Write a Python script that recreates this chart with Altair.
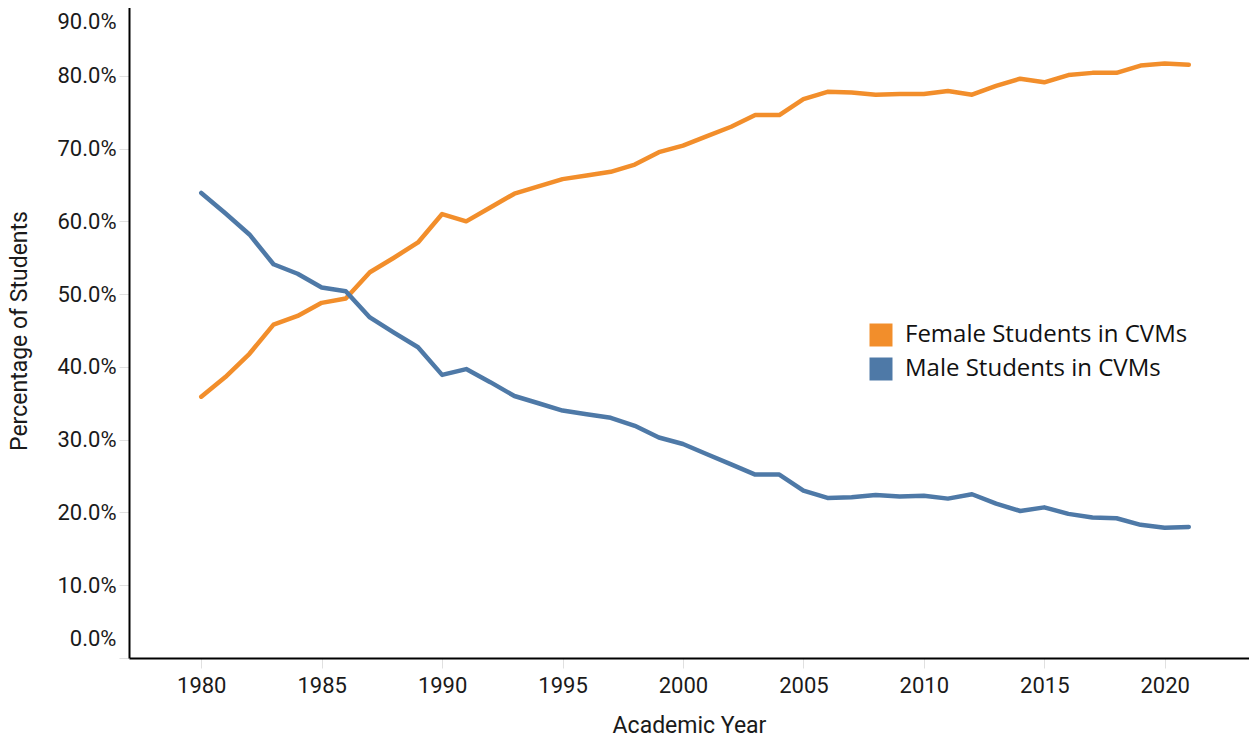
import altair as alt
import pandas as pd

years = list(range(1980, 2022))
female_pct = [35.9, 38.6, 41.8, 45.8, 47.0, 48.8, 49.4, 53.0, 55.0, 57.1,
              61.0, 60.0, 61.9, 63.8, 64.8, 65.8, 66.3, 66.8, 67.8, 69.5,
              70.4, 71.7, 73.0, 74.6, 74.6, 76.8, 77.8, 77.7, 77.4, 77.5,
              77.5, 77.9, 77.4, 78.6, 79.6, 79.1, 80.1, 80.4, 80.4, 81.4,
              81.7, 81.5]
male_pct = [63.9, 61.1, 58.2, 54.1, 52.8, 50.9, 50.4, 46.8, 44.7, 42.7,
            38.9, 39.7, 37.9, 36.0, 35.0, 34.0, 33.5, 33.0, 31.9, 30.3,
            29.4, 28.0, 26.6, 25.2, 25.2, 23.0, 22.0, 22.1, 22.4, 22.2,
            22.3, 21.9, 22.5, 21.2, 20.2, 20.7, 19.8, 19.3, 19.2, 18.3,
            17.9, 18.0]
series_names = ["Female Students in CVMs", "Male Students in CVMs"]
series_colors = ["#F28E2B", "#4E79A7"]
x_ticks = [1980, 1985, 1990, 1995, 2000, 2005, 2010, 2015, 2020]
y_ticks = [0.0, 0.1, 0.2, 0.3, 0.4, 0.5, 0.6, 0.7, 0.8, 0.9]

rows = []
for name, vals in zip(series_names, [female_pct, male_pct]):
    for y, v in zip(years, vals):
        rows.append({"year": y, "share": v / 100.0, "series": name})
df = pd.DataFrame(rows)

x_enc = alt.X("year:Q",
              scale=alt.Scale(domain=[1977, 2023.5], nice=False, zero=False),
              axis=alt.Axis(title="Academic Year", values=x_ticks, format="d",
                            grid=False, labelFlush=False, tickSize=10,
                            tickColor="#e0e0e0", domainColor="#000000", domainWidth=2,
                            labelFont="Roboto", labelFontSize=22, labelColor="#1a1a1a",
                            labelPadding=7, titleFont="Roboto", titleFontSize=23,
                            titleFontWeight="normal", titleColor="#1a1a1a", titlePadding=18))
y_enc = alt.Y("share:Q",
              scale=alt.Scale(domain=[0, 0.9], nice=False),
              axis=alt.Axis(title="Percentage of Students", values=y_ticks, format=".1%",
                            grid=False, labelFlush=True, labelFlushOffset=-8, tickSize=10,
                            tickColor="#e0e0e0", domainColor="#000000", domainWidth=2,
                            labelFont="Roboto", labelFontSize=22, labelColor="#1a1a1a",
                            labelPadding=3, titleFont="Roboto", titleFontSize=23,
                            titleFontWeight="normal", titleColor="#1a1a1a", titlePadding=25))
color_scale = alt.Scale(domain=series_names, range=series_colors)

lines = alt.Chart(df).mark_line(strokeWidth=4.5, strokeCap="round", strokeJoin="round").encode(
    x=x_enc, y=y_enc,
    color=alt.Color("series:N", scale=color_scale, sort=series_names, legend=None),
)

legend_layer = alt.Chart(df).mark_point(shape="square", filled=True, size=0, opacity=1).encode(
    x=x_enc, y=y_enc,
    color=alt.Color("series:N", scale=color_scale, sort=series_names,
                    legend=alt.Legend(title=None, orient="none", legendX=740, legendY=320,
                                      symbolType="square", symbolSize=529,
                                      symbolStrokeWidth=0, symbolOpacity=1,
                                      labelFont="Open Sans", labelFontSize=24,
                                      labelLimit=500,
                                      labelColor="#111111", rowPadding=10, labelOffset=12)),
)

chart = alt.layer(lines, legend_layer).resolve_legend(color="independent").properties(
    width=1120, height=655,
    padding={"left": 0, "top": -6, "right": 0, "bottom": 0}
).configure_view(stroke=None)

chart.save("out.html", embed_options={"renderer": "svg", "actions": False})
